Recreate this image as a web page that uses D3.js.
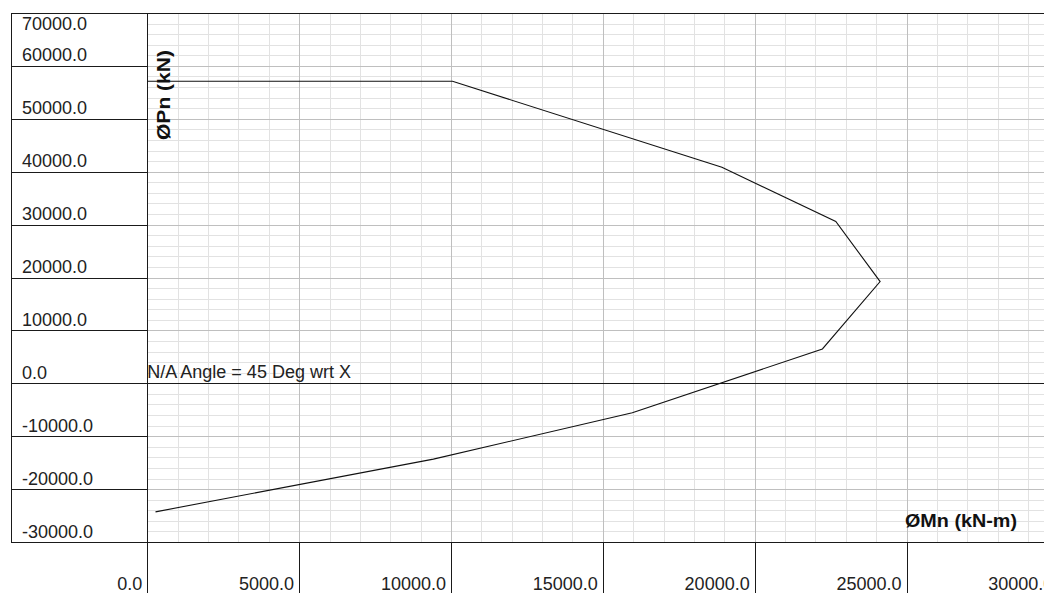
<!DOCTYPE html>
<html>
<head>
<meta charset="utf-8">
<script src="https://cdn.jsdelivr.net/npm/d3@7"></script>
<style>
  html, body { margin: 0; padding: 0; background: #fff; }
  svg { display: block; font-family: "Liberation Sans", Arial, sans-serif; }
</style>
</head>
<body>
<svg id="chart" width="1044" height="593"></svg>
<script>
// ---- data ----
const momentValues = [0, 10050, 18920, 22670, 24130, 22230, 15970, 9420, 270];      // ØMn (kN-m)
const axialValues  = [57090, 57090, 40850, 30590, 19230, 6490, -5565, -14330, -24300]; // ØPn (kN)
const yTickValues  = [70000, 60000, 50000, 40000, 30000, 20000, 10000, 0, -10000, -20000, -30000];
const xTickValues  = [0, 5000, 10000, 15000, 20000, 25000, 30000];
const xLabel = "ØMn (kN-m)";
const yLabel = "ØPn (kN)";
const noteText = "N/A Angle = 45 Deg wrt X";

// ---- layout ----
const W = 1044, H = 593;
const frameLeft = 11, plotLeft = 147, plotTop = 13, plotBottom = 542;
const x = d3.scaleLinear().domain([0, 30000]).range([147.3, 1058.4]);
const y = d3.scaleLinear().domain([-30000, 70000]).range([plotBottom, plotTop]);
const px = v => Math.round(v) + 0.5;

const svg = d3.select("#chart");

// grid (minor then major)
const g = svg.append("g");
const xMinor = d3.range(0, 30001, 1000).filter(v => v % 5000 !== 0);
const yMinor = d3.range(-30000, 70001, 2000).filter(v => v % 10000 !== 0);
const xMajor = xTickValues.filter(v => v > 0);
const yMajor = yTickValues.filter(v => v !== 0 && v !== 70000 && v !== -30000);

g.selectAll("line.xmin").data(xMinor).join("line")
  .attr("x1", d => px(x(d))).attr("x2", d => px(x(d)))
  .attr("y1", plotTop).attr("y2", plotBottom)
  .attr("stroke", "#e2e2e2").attr("stroke-width", 1);
g.selectAll("line.ymin").data(yMinor).join("line")
  .attr("x1", plotLeft).attr("x2", W)
  .attr("y1", d => px(y(d))).attr("y2", d => px(y(d)))
  .attr("stroke", "#e2e2e2").attr("stroke-width", 1);
g.selectAll("line.xmaj").data(xMajor).join("line")
  .attr("x1", d => px(x(d))).attr("x2", d => px(x(d)))
  .attr("y1", plotTop).attr("y2", plotBottom)
  .attr("stroke", "#bfbfbf").attr("stroke-width", 1);
g.selectAll("line.ymaj").data(yMajor).join("line")
  .attr("x1", plotLeft).attr("x2", W)
  .attr("y1", d => px(y(d))).attr("y2", d => px(y(d)))
  .attr("stroke", "#bfbfbf").attr("stroke-width", 1);

// frame lines
const f = svg.append("g").attr("stroke", "#1a1a1a").attr("stroke-width", 1);
// top & bottom of plot, zero line
[70000, -30000, 0].forEach(v => {
  f.append("line").attr("x1", frameLeft).attr("x2", W)
    .attr("y1", px(y(v))).attr("y2", px(y(v)));
});
// left panel tick lines
f.selectAll("line.lp").data(yMajor).join("line")
  .attr("x1", frameLeft).attr("x2", plotLeft)
  .attr("y1", d => px(y(d))).attr("y2", d => px(y(d)));
// left frame
f.append("line").attr("x1", px(frameLeft)).attr("x2", px(frameLeft))
  .attr("y1", px(y(70000))).attr("y2", px(y(-30000)));
// plot left border (continues into x-axis band)
f.append("line").attr("x1", px(x(0) - 0.5)).attr("x2", px(x(0) - 0.5))
  .attr("y1", px(y(70000))).attr("y2", H);
// x-axis band tick separators
f.selectAll("line.xt").data(xMajor).join("line")
  .attr("x1", d => px(x(d))).attr("x2", d => px(x(d)))
  .attr("y1", px(y(-30000))).attr("y2", H);

// data line
const pts = momentValues.map((m, i) => [m, axialValues[i]]);
svg.append("path")
  .datum(pts)
  .attr("d", d3.line().x(d => x(d[0])).y(d => y(d[1])))
  .attr("fill", "none").attr("stroke", "#111").attr("stroke-width", 1.1);

// y labels
svg.append("g").selectAll("text").data(yTickValues).join("text")
  .attr("x", 22)
  .attr("y", d => Math.max(y(d) - 4.5, 30))
  .attr("font-size", 18).attr("fill", "#222")
  .text(d => d.toFixed(1));

// x labels
svg.append("g").selectAll("text").data(xTickValues).join("text")
  .attr("x", d => x(d) - 5)
  .attr("y", 590)
  .attr("text-anchor", "end")
  .attr("font-size", 18).attr("fill", "#222")
  .text(d => d.toFixed(1));

// note
svg.append("text")
  .attr("x", x(0)).attr("y", y(0) - 5)
  .attr("font-size", 18).attr("fill", "#222")
  .text(noteText);

// axis titles
svg.append("text")
  .attr("transform", "translate(170,140) rotate(-90)")
  .attr("font-size", 18).attr("font-weight", "bold").attr("fill", "#111")
  .attr("textLength", 90).attr("lengthAdjust", "spacingAndGlyphs")
  .text(yLabel);
svg.append("text")
  .attr("x", 905).attr("y", 527)
  .attr("font-size", 18).attr("font-weight", "bold").attr("fill", "#111")
  .attr("textLength", 112).attr("lengthAdjust", "spacingAndGlyphs")
  .text(xLabel);
</script>
</body>
</html>
